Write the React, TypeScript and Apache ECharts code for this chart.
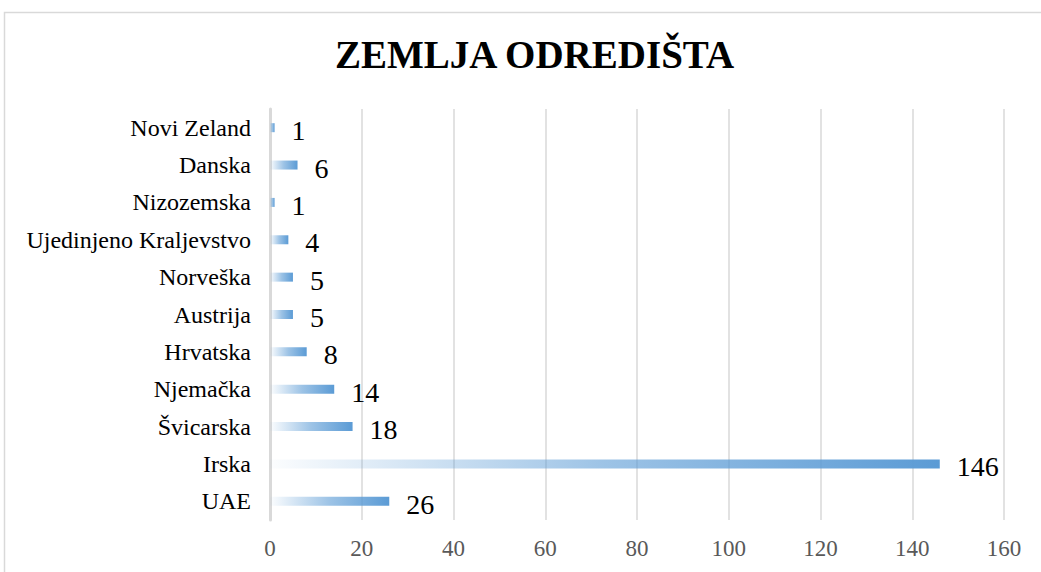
import React, { useEffect, useRef } from "react";
import * as echarts from "echarts";

const categories = [
  "UAE",
  "Irska",
  "Švicarska",
  "Njemačka",
  "Hrvatska",
  "Austrija",
  "Norveška",
  "Ujedinjeno Kraljevstvo",
  "Nizozemska",
  "Danska",
  "Novi Zeland",
];
const values = [26, 146, 18, 14, 8, 5, 5, 4, 1, 6, 1];
const title = "ZEMLJA ODREDIŠTA";

const serif = "'Liberation Serif', 'Times New Roman', serif";

export default function App() {
  const ref = useRef<HTMLDivElement>(null);
  useEffect(() => {
    if (!ref.current) return;
    const chart = echarts.init(ref.current, null, { renderer: "svg" });
    chart.setOption({
      animation: false,
      backgroundColor: "#ffffff",
      title: {
        text: title,
        left: 330,
        top: 30,
        textStyle: { fontFamily: serif, fontSize: 39, fontWeight: "bold", color: "#000" },
      },
      graphic: [
        {
          type: "rect",
          shape: { x: 4.5, y: 12.5, width: 1040, height: 580 },
          style: { fill: "none", stroke: "#d9d9d9", lineWidth: 1.5 },
          silent: true,
        },
      ],
      grid: { left: 270, right: 37, top: 109, bottom: 52, containLabel: false },
      xAxis: {
        type: "value",
        min: 0,
        max: 160,
        interval: 20,
        axisLine: { show: false },
        axisTick: { show: false },
        splitLine: { show: true, lineStyle: { color: "#d9d9d9", width: 1.5 } },
        axisLabel: { color: "#595959", fontSize: 23, fontFamily: serif, margin: 17 },
      },
      yAxis: {
        type: "category",
        data: categories,
        axisLine: { show: true, lineStyle: { color: "#d9d9d9", width: 3 } },
        axisTick: { show: false },
        axisLabel: { color: "#000", fontSize: 24, fontFamily: serif, margin: 19 },
      },
      series: [
        {
          type: "bar",
          data: values,
          barWidth: 9,
          itemStyle: {
            color: new echarts.graphic.LinearGradient(0, 0, 1, 0, [
              { offset: 0, color: "rgba(91,155,213,0.02)" },
              { offset: 0.5, color: "rgba(91,155,213,0.6)" },
              { offset: 1, color: "#5b9bd5" },
            ]),
          },
          label: {
            show: true,
            position: "right",
            distance: 17,
            offset: [0, 3],
            color: "#000",
            fontSize: 28,
            fontFamily: serif,
          },
        },
      ],
    });
    return () => chart.dispose();
  }, []);
  return (
    <div
      ref={ref}
      style={{ position: "fixed", left: 0, top: 0, width: 1041, height: 572 }}
    />
  );
}
